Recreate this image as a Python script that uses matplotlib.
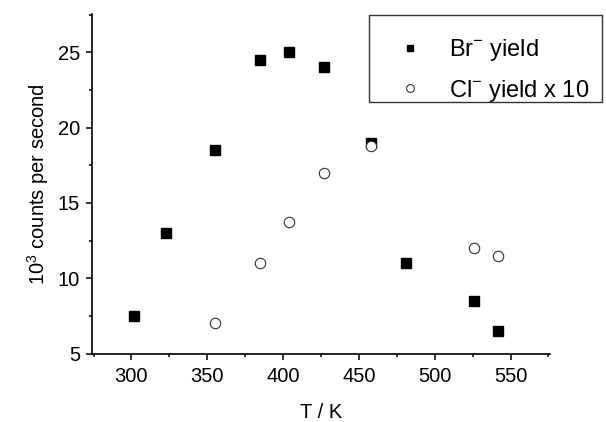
import matplotlib
matplotlib.use('Agg')
import matplotlib.pyplot as plt
from matplotlib.patches import Rectangle
from matplotlib.ticker import MultipleLocator

plt.rcParams['font.family'] = ['Liberation Sans', 'DejaVu Sans']
plt.rcParams['mathtext.fontset'] = 'custom'
plt.rcParams['mathtext.rm'] = 'Liberation Sans'
plt.rcParams['mathtext.it'] = 'Liberation Sans'

# Br- yield
br_T = [302, 323, 355, 385, 404, 427, 458, 481, 526, 542]
br_counts = [7.5, 13.0, 18.5, 24.5, 25.0, 24.0, 19.0, 11.0, 8.5, 6.5]

# Cl- yield x 10
cl_T = [355, 385, 404, 427, 458, 526, 542]
cl_counts = [7.0, 11.0, 13.75, 17.0, 18.75, 12.0, 11.5]

W, H = 606, 422
fig = plt.figure(figsize=(W / 100, H / 100), dpi=100)
ax = fig.add_axes([92/W, 1 - 353.5/H, (550 - 92)/W, (353.5 - 14)/H])

ax.plot(br_T, br_counts, 's', color='black', markersize=6.5, label=r'Br$^{-}$ yield')
ax.plot(cl_T, cl_counts, 'o', markerfacecolor='white', markeredgecolor='#333333',
        markeredgewidth=0.8, markersize=7.5, label=r'Cl$^{-}$ yield x 10')

ax.set_xlim(274, 576)
ax.set_ylim(5, 27.55)
ax.xaxis.set_major_locator(MultipleLocator(50))
ax.xaxis.set_minor_locator(MultipleLocator(25))
ax.yaxis.set_major_locator(MultipleLocator(5))
ax.yaxis.set_minor_locator(MultipleLocator(2.5))
ax.spines['top'].set_visible(False)
ax.spines['right'].set_visible(False)
for s in ['left', 'bottom']:
    ax.spines[s].set_linewidth(1.2)
ax.tick_params(which='major', direction='out', length=4.5, width=1.1, labelsize=14.5, pad=4)
ax.tick_params(axis='x', which='major', pad=5)
ax.tick_params(which='minor', direction='out', length=2.5, width=1.1)

ax.set_xlabel('T / K', fontsize=14.5, labelpad=12.5)
ax.set_ylabel(r'10$^{3}$ counts per second', fontsize=14.5, labelpad=5)

# legend frame drawn separately, entries sit low in the box
fig.patches.append(Rectangle((369/W, 1 - 102/H), (602 - 369)/W, (102 - 15)/H,
                             transform=fig.transFigure, fill=False,
                             edgecolor='#333333', linewidth=1.0))
ax.legend(loc='center', bbox_to_anchor=(369/W, 1 - 122/H, (602 - 369)/W, 103.4/H),
          bbox_transform=fig.transFigure, mode='expand', fontsize=17,
          frameon=False, borderaxespad=0, borderpad=0.4,
          handlelength=2.7, handletextpad=0.3, labelspacing=0.62, markerscale=0.75)

fig.savefig('out.png', dpi=100)
